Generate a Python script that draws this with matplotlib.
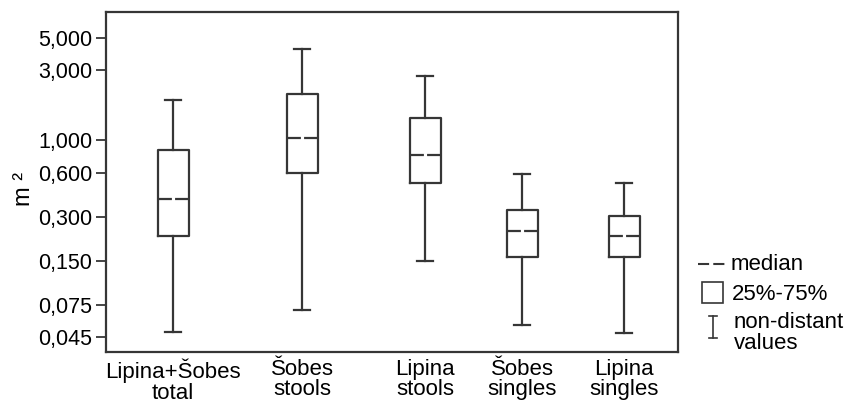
import matplotlib.pyplot as plt
from matplotlib.lines import Line2D
from matplotlib.patches import Rectangle
from matplotlib.ticker import FixedLocator, NullLocator

plt.rcParams['font.family'] = ['Liberation Sans', 'DejaVu Sans']
plt.rcParams['lines.scale_dashes'] = False

# data (m2)
groups = ['Lipina+Šobes\ntotal', 'Šobes\nstools', 'Lipina\nstools', 'Šobes\nsingles', 'Lipina\nsingles']
whisker_low = [0.049, 0.069, 0.149, 0.055, 0.048]
q1 = [0.221, 0.593, 0.511, 0.160, 0.160]
median = [0.396, 1.04, 0.794, 0.238, 0.222]
q3 = [0.855, 2.05, 1.41, 0.333, 0.302]
whisker_high = [1.87, 4.18, 2.72, 0.589, 0.509]

yticks = [0.045, 0.075, 0.150, 0.300, 0.600, 1.0, 3.0, 5.0]
ytick_labels = ['0,045', '0,075', '0,150', '0,300', '0,600', '1,000', '3,000', '5,000']

positions = [173, 302, 425, 522, 624]
col = '#363636'

fig = plt.figure(figsize=(8.52, 4.12), dpi=100)
ax = fig.add_axes([106 / 852, 60 / 412, 572 / 852, 340 / 412])

stats = []
for i in range(len(groups)):
    stats.append(dict(whislo=whisker_low[i], q1=q1[i], med=median[i],
                      q3=q3[i], whishi=whisker_high[i], fliers=[]))

ax.bxp(stats, positions=positions, widths=31, showfliers=False,
       boxprops=dict(color=col, linewidth=1.6),
       whiskerprops=dict(color=col, linewidth=1.6),
       capprops=dict(color=col, linewidth=1.6),
       medianprops=dict(color=col, linewidth=1.6, linestyle=(0, (10, 2.3))),
       capwidths=16)

ax.set_yscale('log')
ax.set_ylim(0.0358, 7.47)
ax.set_xlim(106, 678)
ax.yaxis.set_major_locator(FixedLocator(yticks))
ax.yaxis.set_minor_locator(NullLocator())
ax.set_yticklabels(ytick_labels)
ax.set_xticks(positions)
ax.set_xticklabels(groups, fontsize=16, linespacing=0.95)
ax.tick_params(axis='x', length=0, pad=5)
ax.tick_params(axis='y', length=7, width=1.3, color=col, labelsize=15.5, pad=3)
for s in ax.spines.values():
    s.set_color(col)
    s.set_linewidth(1.6)
ax.set_ylabel('m ²', fontsize=17)
ax.yaxis.set_label_coords(-0.125, 0.48)

# legend drawn beside the axes
fig.add_artist(Line2D([698 / 852, 726 / 852], [1 - 264 / 412] * 2, color=col,
                      linewidth=1.5, linestyle=(0, (8, 3))))
fig.text(731 / 852, 1 - 265 / 412, 'median', fontsize=16, va='center')
fig.add_artist(Rectangle((702 / 852, 1 - 303 / 412), 21 / 852, 21 / 412,
                         facecolor='none', edgecolor=col, linewidth=1.2))
fig.text(732 / 852, 1 - 294 / 412, '25%-75%', fontsize=16, va='center')
fig.add_artist(Line2D([713 / 852] * 2, [1 - 316 / 412, 1 - 338 / 412], color=col, linewidth=1.2))
fig.add_artist(Line2D([709 / 852, 717 / 852], [1 - 316 / 412] * 2, color=col, linewidth=1.2))
fig.add_artist(Line2D([709 / 852, 717 / 852], [1 - 338 / 412] * 2, color=col, linewidth=1.2))
fig.text(734 / 852, 1 - 333 / 412, 'non-distant\nvalues', fontsize=16, va='center', linespacing=0.95)

fig.savefig('out.png', dpi=100)
